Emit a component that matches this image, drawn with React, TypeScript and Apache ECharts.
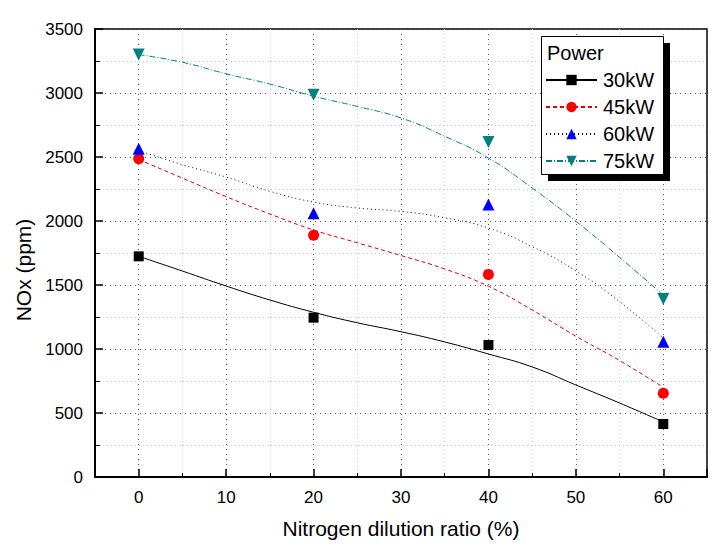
import React, { useEffect, useRef } from "react";
import * as echarts from "echarts";

// Measured points
const xPoints = [0, 20, 40, 60];
const nox30 = [1724, 1245, 1031, 414];
const nox45 = [2487, 1888, 1583, 654];
const nox60 = [2565, 2060, 2128, 1057];
const nox75 = [3300, 2987, 2617, 1390];

// Fitted curves
const fitX = [0, 5, 10, 15, 20, 25, 30, 35, 40, 45, 50, 55, 60];
const fit30 = [1724, 1609, 1492, 1383, 1287, 1205, 1135, 1055, 961, 860, 719, 578, 430];
const fit45 = [2480, 2335, 2190, 2055, 1930, 1830, 1730, 1625, 1490, 1305, 1100, 910, 700];
const fit60 = [2550, 2440, 2343, 2232, 2148, 2102, 2075, 2025, 1945, 1800, 1610, 1370, 1085];
const fit75 = [3300, 3240, 3150, 3070, 2975, 2895, 2805, 2662, 2492, 2258, 1998, 1716, 1420];

const seriesNames = ["30kW", "45kW", "60kW", "75kW"];
const markerColors = ["#000000", "#ff0000", "#0000ff", "#008080"];
const lineColors = ["#000000", "#e00000", "#000080", "#008080"];
const lineTypes: any[] = ["solid", [4, 3], [1, 3], [6, 2, 1, 2]];
const symbols = ["rect", "circle", "triangle", "triangle"];
const symbolRotates = [0, 0, 0, 180];
const symbolSizes = [10, 11, 12, 12];

const FONT = "'Liberation Sans', Arial, Helvetica, sans-serif";

export default function App() {
  const ref = useRef<HTMLDivElement>(null);
  useEffect(() => {
    if (!ref.current) return;
    const chart = echarts.init(ref.current, null, { renderer: "svg" });
    const points = [nox30, nox45, nox60, nox75];
    const fits = [fit30, fit45, fit60, fit75];

    const lineSeries = seriesNames.map((name, i) => ({
      name,
      type: "line",
      smooth: true,
      showSymbol: false,
      symbol: symbols[i],
      symbolRotate: symbolRotates[i],
      symbolSize: symbolSizes[i],
      data: fitX.map((x, j) => [x, fits[i][j]]),
      lineStyle: { color: lineColors[i], width: 1, type: lineTypes[i] },
      itemStyle: { color: markerColors[i] },
      z: 2,
      silent: true,
    }));
    const scatterSeries = seriesNames.map((name, i) => ({
      name: name + " data",
      type: "scatter",
      symbol: symbols[i],
      symbolRotate: symbolRotates[i],
      symbolSize: symbolSizes[i],
      data: xPoints.map((x, j) => [x, points[i][j]]),
      itemStyle: { color: markerColors[i], opacity: 1 },
      z: 3,
    }));

    chart.setOption({
      animation: false,
      backgroundColor: "#ffffff",
      textStyle: { fontFamily: FONT },
      grid: {
        left: 95,
        right: 9,
        top: 29,
        bottom: 77,
        show: true,
        borderColor: "#000",
        borderWidth: 1.5,
        backgroundColor: "transparent",
      },
      xAxis: {
        type: "value",
        min: -5,
        max: 65,
        splitNumber: 7,
        name: "Nitrogen dilution ratio (%)",
        nameLocation: "middle",
        nameGap: 41,
        nameTextStyle: { fontSize: 21, color: "#000", fontFamily: FONT },
        axisLine: { show: true, onZero: false, lineStyle: { color: "#000", width: 2 } },
        axisTick: { show: true, inside: true, length: 8, lineStyle: { color: "#000", width: 1.5 } },
        minorTick: { show: true, splitNumber: 2, length: 4, lineStyle: { color: "#000", width: 1 } },
        axisLabel: {
          fontSize: 17,
          color: "#000",
          margin: 12,
          fontFamily: FONT,
          formatter: (v: number) => (v % 10 === 0 ? String(v) : ""),
        },
        splitLine: { show: true, lineStyle: { color: "#555", type: [1, 4], width: 1 } },
        minorSplitLine: { show: true, lineStyle: { color: "#c8c8c8", type: [1, 3], width: 1 } },
      },
      yAxis: {
        type: "value",
        min: 0,
        max: 3500,
        interval: 500,
        name: "NOx (ppm)",
        nameLocation: "middle",
        nameGap: 32,
        nameTextStyle: { fontSize: 21, color: "#000", fontFamily: FONT, padding: [0, 34, 0, 0] },
        axisLine: { show: true, onZero: false, lineStyle: { color: "#000", width: 2 } },
        axisTick: { show: true, inside: true, length: 8, lineStyle: { color: "#000", width: 1.5 } },
        minorTick: { show: true, splitNumber: 2, length: 5, lineStyle: { color: "#000", width: 1 } },
        axisLabel: {
          fontSize: 17,
          color: "#000",
          margin: 12,
          fontFamily: FONT,
          formatter: (v: number) => String(v),
        },
        splitLine: { show: true, lineStyle: { color: "#555", type: [1, 4], width: 1 } },
        minorSplitLine: { show: true, lineStyle: { color: "#c8c8c8", type: [1, 3], width: 1 } },
      },
      legend: {
        data: seriesNames,
        orient: "vertical",
        left: 545,
        top: 70,
        padding: 0,
        itemWidth: 51,
        itemHeight: 13,
        itemGap: 7,
        z: 20,
        selectedMode: false,
        textStyle: { fontSize: 20, color: "#000", fontFamily: FONT, lineHeight: 20, padding: [0, 0, 0, 1] },
      },
      graphic: [
        {
          type: "rect",
          z: 10,
          shape: { x: 548, y: 43, width: 122, height: 138 },
          style: { fill: "#000" },
        },
        {
          type: "rect",
          z: 11,
          shape: { x: 541.5, y: 36.5, width: 122, height: 138 },
          style: { fill: "#fff", stroke: "#000", lineWidth: 1 },
        },
        {
          type: "text",
          z: 12,
          x: 547,
          y: 53,
          style: { text: "Power", fontSize: 20, fill: "#000", fontFamily: FONT, verticalAlign: "middle" },
        },
      ],
      series: [...lineSeries, ...scatterSeries],
    });
    return () => chart.dispose();
  }, []);
  return (
    <div
      ref={ref}
      style={{ position: "fixed", left: 0, top: 0, width: 716, height: 554, background: "#fff" }}
    />
  );
}
